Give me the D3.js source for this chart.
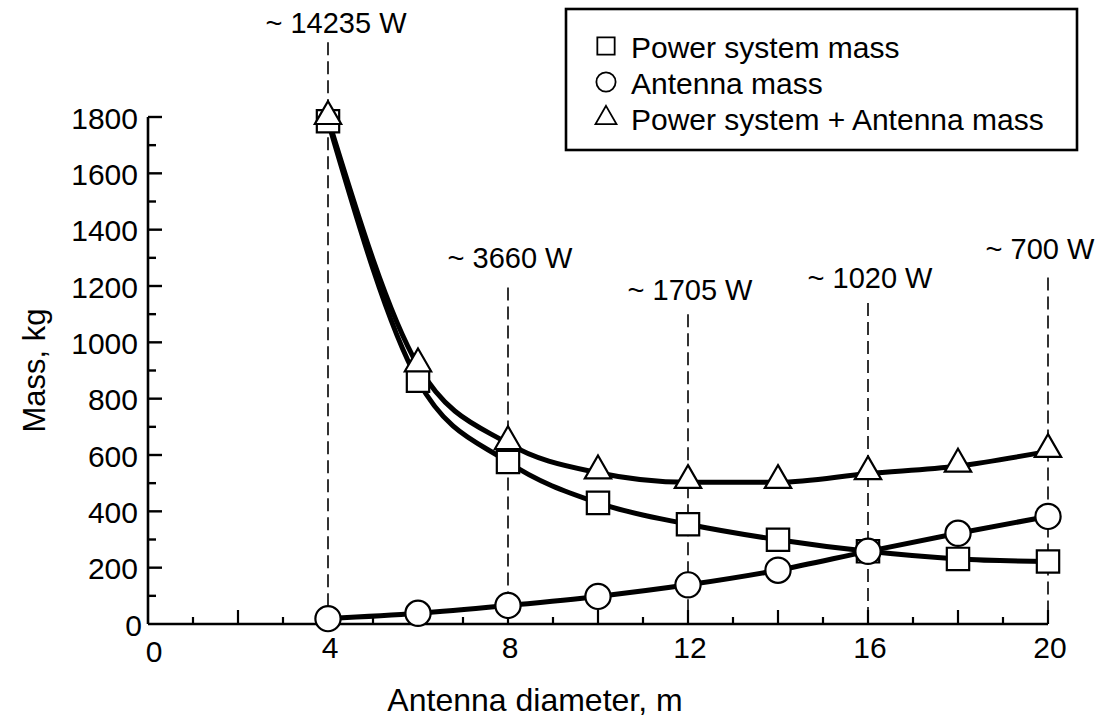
<!DOCTYPE html>
<html>
<head>
<meta charset="utf-8">
<script src="https://cdn.jsdelivr.net/npm/d3@7"></script>
<style>
  html, body { margin: 0; padding: 0; background: #fff; }
  svg { display: block; }
  text { font-family: "Liberation Sans", Arial, Helvetica, sans-serif; fill: #000; }
</style>
</head>
<body>
<svg id="chart" width="1106" height="724"></svg>
<script>
// ---- data ----
const diameters = [4, 6, 8, 10, 12, 14, 16, 18, 20];
const powerMass = [1785, 864, 575, 430, 354, 299, 258, 231, 222];
const antennaMass = [19, 38, 66, 98, 139, 191, 258, 322, 382];
const totalMass = [1795, 917, 641, 537, 503, 503, 534, 561, 613];

const xTickLabels = [0, 4, 8, 12, 16, 20];
const yTickLabels = [0, 200, 400, 600, 800, 1000, 1200, 1400, 1600, 1800];

const annoDiameters = [4, 8, 12, 16, 20];
const annoTexts = ["~ 14235 W", "~ 3660 W", "~ 1705 W", "~ 1020 W", "~ 700 W"];
const annoLabelMass = [2135, 1300, 1185, 1228, 1330];
const annoLineTopMass = [2065, 1195, 1100, 1140, 1230];

const seriesNames = ["Power system mass", "Antenna mass", "Power system + Antenna mass"];

// ---- layout ----
const svg = d3.select("#chart");
const x = d3.scaleLinear().domain([0, 20]).range([148, 1048]);
const y = d3.scaleLinear().domain([0, 1800]).range([624, 117]);

// dashed annotation lines
const g = svg.append("g");
annoDiameters.forEach((d, i) => {
  g.append("line")
    .attr("x1", x(d)).attr("x2", x(d))
    .attr("y1", y(annoLineTopMass[i])).attr("y2", y(0))
    .attr("stroke", "#000").attr("stroke-width", 1.6)
    .attr("stroke-dasharray", "13,6");
  g.append("text")
    .attr("x", x(d) + (i === 0 ? 8 : (i === 4 ? -8 : 2)))
    .attr("y", y(annoLabelMass[i]))
    .attr("text-anchor", "middle")
    .attr("dominant-baseline", "central")
    .style("font-size", "29px")
    .text(annoTexts[i]);
});

// axes
const axG = svg.append("g");
axG.append("line").attr("x1", x(0)).attr("x2", x(0)).attr("y1", y(1800)).attr("y2", y(0))
  .attr("stroke", "#000").attr("stroke-width", 2.6);
axG.append("line").attr("x1", x(0)).attr("x2", x(20)).attr("y1", y(0)).attr("y2", y(0))
  .attr("stroke", "#000").attr("stroke-width", 2.6);

// y ticks (inward)
axG.selectAll(".yt").data(d3.range(100, 1801, 100)).join("line")
  .attr("x1", x(0)).attr("x2", d => x(0) + (d % 200 === 0 ? 14 : 8))
  .attr("y1", d => y(d)).attr("y2", d => y(d))
  .attr("stroke", "#000").attr("stroke-width", 2.4);
// x ticks (inward)
axG.selectAll(".xt").data(d3.range(1, 21, 1)).join("line")
  .attr("x1", d => x(d)).attr("x2", d => x(d))
  .attr("y1", y(0)).attr("y2", d => y(0) - (d % 2 === 0 ? 14 : 7))
  .attr("stroke", "#000").attr("stroke-width", 2.2);

// y tick labels
axG.selectAll(".yl").data(yTickLabels).join("text")
  .attr("x", d => d === 0 ? x(0) - 6 : x(0) - 10)
  .attr("y", d => d === 0 ? y(0) + 1 : y(d) + 1)
  .attr("text-anchor", "end")
  .attr("dominant-baseline", "central")
  .style("font-size", "30px")
  .text(d => d);
// x tick labels
axG.selectAll(".xl").data(xTickLabels).join("text")
  .attr("x", d => x(d) + (d === 0 ? 6 : 2))
  .attr("y", d => y(0) + (d === 0 ? 27 : 23))
  .attr("text-anchor", "middle")
  .attr("dominant-baseline", "central")
  .style("font-size", "30px")
  .text(d => d);

// axis titles
svg.append("text")
  .attr("transform", `translate(34, ${(y(0) + y(1800)) / 2}) rotate(-90)`)
  .attr("text-anchor", "middle")
  .attr("dominant-baseline", "central")
  .style("font-size", "31px")
  .text("Mass, kg");
svg.append("text")
  .attr("x", 535).attr("y", 700)
  .attr("text-anchor", "middle")
  .attr("dominant-baseline", "central")
  .style("font-size", "32px")
  .text("Antenna diameter, m");

// lines
const line = d3.line().x(d => x(d[0])).y(d => y(d[1])).curve(d3.curveMonotoneX);
const seriesData = [powerMass, antennaMass, totalMass].map(arr => diameters.map((d, i) => [d, arr[i]]));
seriesData.forEach(s => {
  svg.append("path").attr("d", line(s))
    .attr("fill", "none").attr("stroke", "#000").attr("stroke-width", 5)
    .attr("stroke-linejoin", "round");
});

// markers
const symSquare = d3.symbol().type(d3.symbolSquare).size(500);
const symCircle = d3.symbol().type(d3.symbolCircle).size(500);
const symTri = d3.symbol().type(d3.symbolTriangle).size(300);
const symbols = [symSquare, symCircle, symTri];
const markerG = svg.append("g");
[0, 1, 2].forEach(k => {
  markerG.selectAll(".m" + k).data(seriesData[k]).join("path")
    .attr("transform", d => `translate(${x(d[0])},${y(d[1]) + (k === 2 ? -2 : 0)})`)
    .attr("d", symbols[k]())
    .attr("fill", "#fff").attr("stroke", "#000").attr("stroke-width", 2.2);
});

// legend
const lg = svg.append("g");
lg.append("rect").attr("x", 566).attr("y", 9).attr("width", 511).attr("height", 141)
  .attr("fill", "#fff").attr("stroke", "#000").attr("stroke-width", 2.6);
const legSyms = [
  d3.symbol().type(d3.symbolSquare).size(300),
  d3.symbol().type(d3.symbolCircle).size(290),
  d3.symbol().type(d3.symbolTriangle).size(190)
];
seriesNames.forEach((name, i) => {
  const cy = 46 + i * 36;
  lg.append("path").attr("transform", `translate(606,${cy})`)
    .attr("d", legSyms[i]())
    .attr("fill", "#fff").attr("stroke", "#000").attr("stroke-width", 1.8);
  lg.append("text").attr("x", 631).attr("y", cy + 1)
    .attr("dominant-baseline", "central")
    .style("font-size", "30px")
    .text(name);
});
</script>
</body>
</html>
